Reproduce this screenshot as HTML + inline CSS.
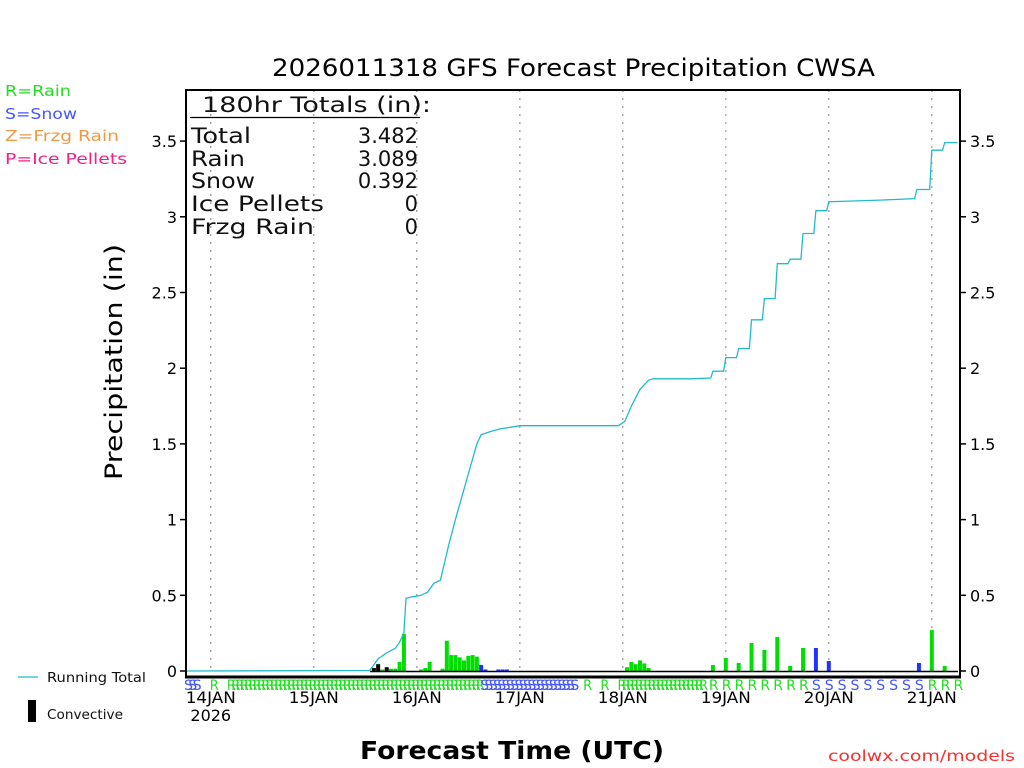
<!DOCTYPE html>
<html><head><meta charset="utf-8"><style>
html,body{margin:0;padding:0;background:#fff;}
svg{display:block;font-family:"DejaVu Sans","Liberation Sans",sans-serif;}
</style></head><body>
<svg id="chart" width="1024" height="768" viewBox="0 0 1024 768">
<g id="grid"></g>
<g id="bars"></g>
<g id="line"></g>
<g id="frame"></g>
<g id="types"></g>
<g id="axes"></g>
<text x="272" y="76" font-size="24" textLength="603" lengthAdjust="spacingAndGlyphs">2026011318 GFS Forecast Precipitation CWSA</text>
<g font-size="15">
<text x="5" y="96" fill="#22dd22" textLength="66" lengthAdjust="spacingAndGlyphs">R=Rain</text>
<text x="5" y="119" fill="#4455ff" textLength="72" lengthAdjust="spacingAndGlyphs">S=Snow</text>
<text x="5" y="141" fill="#ee9944" textLength="114" lengthAdjust="spacingAndGlyphs">Z=Frzg Rain</text>
<text x="5" y="164" fill="#ee2288" textLength="122" lengthAdjust="spacingAndGlyphs">P=Ice Pellets</text>
</g>
<g font-size="21" fill="#111">
<text x="202" y="112" textLength="229" lengthAdjust="spacingAndGlyphs">180hr Totals (in):</text>
<line x1="190" y1="117.5" x2="420" y2="117.5" stroke="#000" stroke-width="1.2"/>
<text x="191" y="143" textLength="60" lengthAdjust="spacingAndGlyphs">Total</text>
<text x="418" y="143" text-anchor="end">3.482</text>
<text x="191" y="166" textLength="54" lengthAdjust="spacingAndGlyphs">Rain</text>
<text x="418" y="166" text-anchor="end">3.089</text>
<text x="191" y="188" textLength="64" lengthAdjust="spacingAndGlyphs">Snow</text>
<text x="418" y="188" text-anchor="end">0.392</text>
<text x="191" y="211" textLength="133" lengthAdjust="spacingAndGlyphs">Ice Pellets</text>
<text x="418" y="211" text-anchor="end">0</text>
<text x="191" y="234" textLength="123" lengthAdjust="spacingAndGlyphs">Frzg Rain</text>
<text x="418" y="234" text-anchor="end">0</text>
</g>
<text transform="translate(122,362) rotate(-90)" text-anchor="middle" font-size="24" textLength="236" lengthAdjust="spacingAndGlyphs">Precipitation (in)</text>
<text x="360" y="759" font-size="25" font-weight="bold" textLength="304" lengthAdjust="spacingAndGlyphs">Forecast Time (UTC)</text>
<text x="828" y="761" font-size="15" fill="#ee3333" textLength="187" lengthAdjust="spacingAndGlyphs">coolwx.com/models</text>
<g font-size="13" fill="#111">
<line x1="18" y1="677" x2="38" y2="677" stroke="#22bbcc" stroke-width="1.2"/>
<text x="47" y="682" textLength="99" lengthAdjust="spacingAndGlyphs">Running Total</text>
<rect x="28" y="700" width="8" height="22" fill="#000"/>
<text x="47" y="719" textLength="76" lengthAdjust="spacingAndGlyphs">Convective</text>
</g>
</svg>
<script>
const barHours=[44,45,46,47,48,49,50,51,55,56,57,60,61,62,63,64,65,66,67,68,69,70,73,74,75,103,104,105,106,107,108,123,126,129,132,135,138,141,144,147,150,171,174,177];
const barValues=[0.02,0.045,0.01,0.025,0.015,0.015,0.06,0.245,0.01,0.02,0.06,0.015,0.2,0.105,0.105,0.09,0.07,0.1,0.105,0.095,0.04,0.01,0.01,0.01,0.01,0.025,0.06,0.045,0.07,0.05,0.02,0.04,0.086,0.053,0.185,0.139,0.225,0.033,0.152,0.152,0.066,0.053,0.27,0.033];
const barTypes="CCRCRRRRRRRRRRRRRRRRSSSSSRRRRRRRRRRRRRRSSSRR";
const lineHours=[0,43,44,45,47,49,50,51,51.5,53,55,56.5,58,59.5,60.5,61.5,63,64.5,66.5,68,69,71,73.5,76,78,101,102.5,104,106,108,109,118,122.5,123,125.5,126,128.5,129,131.5,132,134.5,135,137.5,138,140.5,141,143.5,144,146.5,147,149.5,150,162,170,170.5,173.5,174,176.5,177,180];
const lineValues=[0,0.003,0.04,0.08,0.12,0.15,0.19,0.25,0.48,0.49,0.5,0.52,0.58,0.6,0.72,0.84,1.0,1.15,1.35,1.5,1.56,1.58,1.6,1.61,1.62,1.62,1.65,1.75,1.86,1.92,1.93,1.93,1.935,1.98,1.98,2.07,2.07,2.13,2.13,2.32,2.32,2.46,2.46,2.69,2.69,2.72,2.72,2.89,2.89,3.04,3.04,3.1,3.11,3.12,3.18,3.18,3.44,3.44,3.49,3.49];
const yTicks=[0,0.5,1,1.5,2,2.5,3,3.5];
const yTickLabels=["0","0.5","1","1.5","2","2.5","3","3.5"];
const dayHours=[6,30,54,78,102,126,150,174];
const dayLabels=["14JAN","15JAN","16JAN","17JAN","18JAN","19JAN","20JAN","21JAN"];
const hourlyTypeRuns=[["S",3],[".",3],["R",1],[".",3],["R",59],["S",22],[".",2],["R",1],[".",3],["R",1],[".",3],["R",20]];
const threeHourTypes="RRRRRRRRSSSSSSSSSRRR";

const NS="http://www.w3.org/2000/svg";
const X0=185,PX_H=4.292,Y0=671,PX_IN=151.4;
function xs(h){return X0+h*PX_H;}
function ys(v){return Y0-v*PX_IN;}
function mk(tag,attrs,parent){const e=document.createElementNS(NS,tag);for(const k in attrs)e.setAttribute(k,attrs[k]);parent.appendChild(e);return e;}

const grid=document.getElementById('grid');
dayHours.forEach(h=>{
  const l=mk('line',{x1:xs(h),x2:xs(h),y1:90,y2:671,stroke:'#aaa','stroke-width':1.5,'stroke-dasharray':'2,6'},grid);
  
  
});

const bars=document.getElementById('bars');
const colors={C:'#000',R:'#00dd00',S:'#2233ff'};
barHours.forEach((h,i)=>{
  const v=barValues[i];
  const r=mk('rect',{x:xs(h)-2,y:ys(v),width:4,height:Math.max(0,v*PX_IN),fill:colors[barTypes[i]]},bars);
  
  
});
mk('line',{x1:370,x2:958,y1:671.5,y2:671.5,stroke:'#000','stroke-width':1.5},bars);

const line=document.getElementById('line');
const pts=lineHours.map((h,i)=>xs(h).toFixed(1)+','+ys(lineValues[i]).toFixed(1)).join(' ');
const pl=mk('polyline',{points:pts,fill:'none',stroke:'#22bbcc','stroke-width':1.3},line);



const frame=document.getElementById('frame');
mk('line',{x1:186,y1:90,x2:960,y2:90,stroke:'#000','stroke-width':2},frame);
mk('line',{x1:186,y1:89,x2:186,y2:678,stroke:'#000','stroke-width':2},frame);
mk('line',{x1:960,y1:89,x2:960,y2:678,stroke:'#000','stroke-width':2},frame);
mk('line',{x1:185,y1:677,x2:961,y2:677,stroke:'#000','stroke-width':3},frame);

const types=document.getElementById('types');
const tcol={R:'#22dd22',S:'#4455ff'};
let hh=0;
hourlyTypeRuns.forEach(run=>{
  for(let j=0;j<run[1];j++,hh++){
    const c=run[0]; if(c==='.')continue;
    const t=mk('text',{x:xs(hh)-1,y:690,'font-size':14,fill:tcol[c],textLength:9,lengthAdjust:'spacingAndGlyphs'},types);t.textContent=c;
    
    
  }
});
for(let k=0;k<threeHourTypes.length;k++){
  const h=123+3*k;const c=threeHourTypes[k];
  const t=mk('text',{x:xs(h)-4,y:690,'font-size':14,fill:tcol[c]},types);t.textContent=c;
  
  
}

const axes=document.getElementById('axes');
yTicks.forEach((v,i)=>{
  mk('line',{x1:180,x2:186,y1:ys(v),y2:ys(v),stroke:'#000','stroke-width':1.5},axes);
  mk('line',{x1:960,x2:966,y1:ys(v),y2:ys(v),stroke:'#000','stroke-width':1.5},axes);
  const a=mk('text',{x:177,y:ys(v)+6,'font-size':16,'text-anchor':'end'},axes);a.textContent=yTickLabels[i];
  
  
  const b=mk('text',{x:970,y:ys(v)+6,'font-size':16},axes);b.textContent=yTickLabels[i];
  
  
});
dayHours.forEach((h,i)=>{
  const t=mk('text',{x:xs(h),y:703,'font-size':16,'text-anchor':'middle',textLength:50,lengthAdjust:'spacingAndGlyphs'},axes);t.textContent=dayLabels[i];
  
  
});
const yr=mk('text',{x:xs(6),y:721,'font-size':16,'text-anchor':'middle'},axes);yr.textContent='2026';


</script>
</body></html>
